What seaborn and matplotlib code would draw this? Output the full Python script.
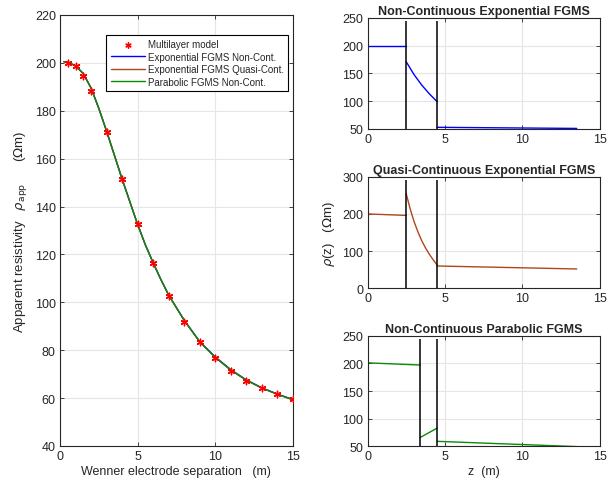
import numpy as np
import matplotlib
matplotlib.use("Agg")
import matplotlib.pyplot as plt
import seaborn as sns

# apparent resistivity vs Wenner separation
a_meas = [0.5, 1, 1.5, 2, 3, 4, 5, 6, 7, 8, 9, 10, 11, 12, 13, 14, 15]
rho_meas = [200, 198.5, 194.5, 188.3, 171, 151.3, 132.5, 116.3, 102.8, 91.8, 83.5,
            76.8, 71.5, 67.3, 64.3, 61.7, 59.6]

a_fit = [0.25, 0.5, 1, 1.5, 2, 2.5, 3, 3.5, 4, 4.5, 5, 5.5, 6, 6.5, 7, 8, 9, 10, 11, 12, 13, 14, 15]
rho_exp_nc = [200.5, 200.2, 198.8, 195.5, 189.5, 181, 171.5, 161.5, 151.5, 142, 132.5, 124,
              116.5, 109.5, 103, 92.5, 83.6, 77.2, 71.9, 67.6, 64.3, 61.7, 59.4]
rho_exp_qc = [200.5, 200.2, 198.8, 195.5, 189.5, 181, 171.5, 161.5, 151.5, 142, 132.5, 124,
              116.5, 109.5, 103, 92.5, 83.5, 77.0, 71.7, 67.5, 64.2, 61.6, 59.3]
rho_par_nc = [200.5, 200.2, 198.8, 195.5, 189.5, 181, 171.5, 161.5, 151.5, 142, 132.5, 124,
              116.5, 109.5, 103, 92.5, 83.5, 77.0, 71.7, 67.5, 64.2, 61.6, 59.3]

# resistivity profiles rho(z), one list of segments per model
z_exp_nc = [[0, 2.5], [2.5, 3, 3.5, 4, 4.5], [4.5, 13.5]]
r_exp_nc = [[200, 200], [171, 148, 129, 113, 99], [53, 51]]
b_exp_nc = [2.5, 4.5]

z_exp_qc = [[0, 2.5], [2.5, 2.75, 3, 3.25, 3.5, 3.75, 4, 4.25, 4.5], [4.5, 13.5]]
r_exp_qc = [[200, 196], [254, 214, 180, 152, 128, 108, 91, 76, 62], [60, 52]]
b_exp_qc = [2.5, 4.5]

z_par_nc = [[0, 3.4], [3.4, 4.5], [4.5, 13.5]]
r_par_nc = [[201, 197], [66, 83], [59, 49.5]]
b_par_nc = [3.4, 4.5]

c_blue = "#0000ff"
c_brown = "#b0471c"
c_green = "#0a8a0a"
c_txt = "#262626"

sns.set_style("ticks", {"axes.edgecolor": c_txt, "grid.color": "#e6e6e6",
                        "xtick.direction": "in", "ytick.direction": "in"})
plt.rcParams['font.family'] = ['Liberation Sans', 'DejaVu Sans']
plt.rcParams['mathtext.fontset'] = 'dejavusans'
plt.rcParams['xtick.color'] = c_txt
plt.rcParams['ytick.color'] = c_txt
plt.rcParams['axes.linewidth'] = 0.8

fig = plt.figure(figsize=(6.16, 4.85), dpi=100)


def style(ax, xlim, ylim, yticks):
    ax.set_xlim(*xlim)
    ax.set_ylim(*ylim)
    ax.set_xticks([0, 5, 10, 15])
    ax.set_yticks(yticks)
    ax.grid(True, lw=0.8)
    ax.set_axisbelow(True)
    ax.tick_params(labelsize=9, length=3, width=0.6, top=True, right=True, pad=3)
    ax.set_xlabel("")
    ax.set_ylabel("")


# left panel
ax = fig.add_axes([0.0974, 0.0784, 0.378, 0.8887])
sns.lineplot(x=a_fit, y=rho_exp_nc, ax=ax, color=c_blue, lw=1, label="Exponential FGMS Non-Cont.")
sns.lineplot(x=a_fit, y=rho_exp_qc, ax=ax, color=c_brown, lw=1, label="Exponential FGMS Quasi-Cont.")
sns.lineplot(x=a_fit, y=rho_par_nc, ax=ax, color=c_green, lw=1, label="Parabolic FGMS Non-Cont.")
sns.scatterplot(x=a_meas, y=rho_meas, ax=ax, color="red", marker=(6, 2, 0), s=22,
                linewidth=1, edgecolor="red", label="Multilayer model", zorder=5)
style(ax, (0, 15), (40, 220), range(40, 221, 20))
ax.set_xlabel("Wenner electrode separation   (m)", fontsize=9, color=c_txt, labelpad=2)
ax.set_ylabel(r"Apparent resistivity   $\rho_{\rm app}$      ($\Omega$m)", fontsize=9.5,
              color=c_txt, labelpad=4)
h, l = ax.get_legend_handles_labels()
order = [3, 0, 1, 2]
leg = ax.legend([h[i] for i in order], [l[i] for i in order], loc="upper right",
                bbox_to_anchor=(1.0, 0.965), fontsize=7, frameon=True, fancybox=False,
                edgecolor="black", framealpha=1, borderpad=0.45, labelspacing=0.25,
                handlelength=3.5, handletextpad=0.3, markerscale=0.8)
leg.get_frame().set_linewidth(0.8)


def profile(rect, zs, rs, bounds, ylim, ytop, yticks, color, title):
    axp = fig.add_axes(rect)
    for zseg, rseg in zip(zs, rs):
        sns.lineplot(x=zseg, y=rseg, ax=axp, color=color, lw=1, sort=False, estimator=None)
    axp.vlines(bounds, ylim[0], ytop, color="black", lw=1.1)
    style(axp, (0, 15), ylim, yticks)
    axp.set_title(title, fontsize=9, fontweight="bold", pad=3)
    return axp


profile([0.5966, 0.732, 0.3774, 0.229], z_exp_nc, r_exp_nc, b_exp_nc, (50, 250), 245,
        range(50, 251, 50), c_blue, "Non-Continuous Exponential FGMS")
axm = profile([0.5966, 0.4035, 0.3774, 0.230], z_exp_qc, r_exp_qc, b_exp_qc, (0, 300), 290,
              range(0, 301, 100), c_brown, "Quasi-Continuous Exponential FGMS")
axm.set_ylabel(r"$\rho$(z)   ($\Omega$m)", fontsize=9.5, color=c_txt)
axb = profile([0.5966, 0.0777, 0.3774, 0.228], z_par_nc, r_par_nc, b_par_nc, (50, 250), 245,
              range(50, 251, 50), c_green, "Non-Continuous Parabolic FGMS")
axb.set_xlabel("z  (m)", fontsize=9, color=c_txt, labelpad=2)

fig.savefig("out.png", dpi=100)
